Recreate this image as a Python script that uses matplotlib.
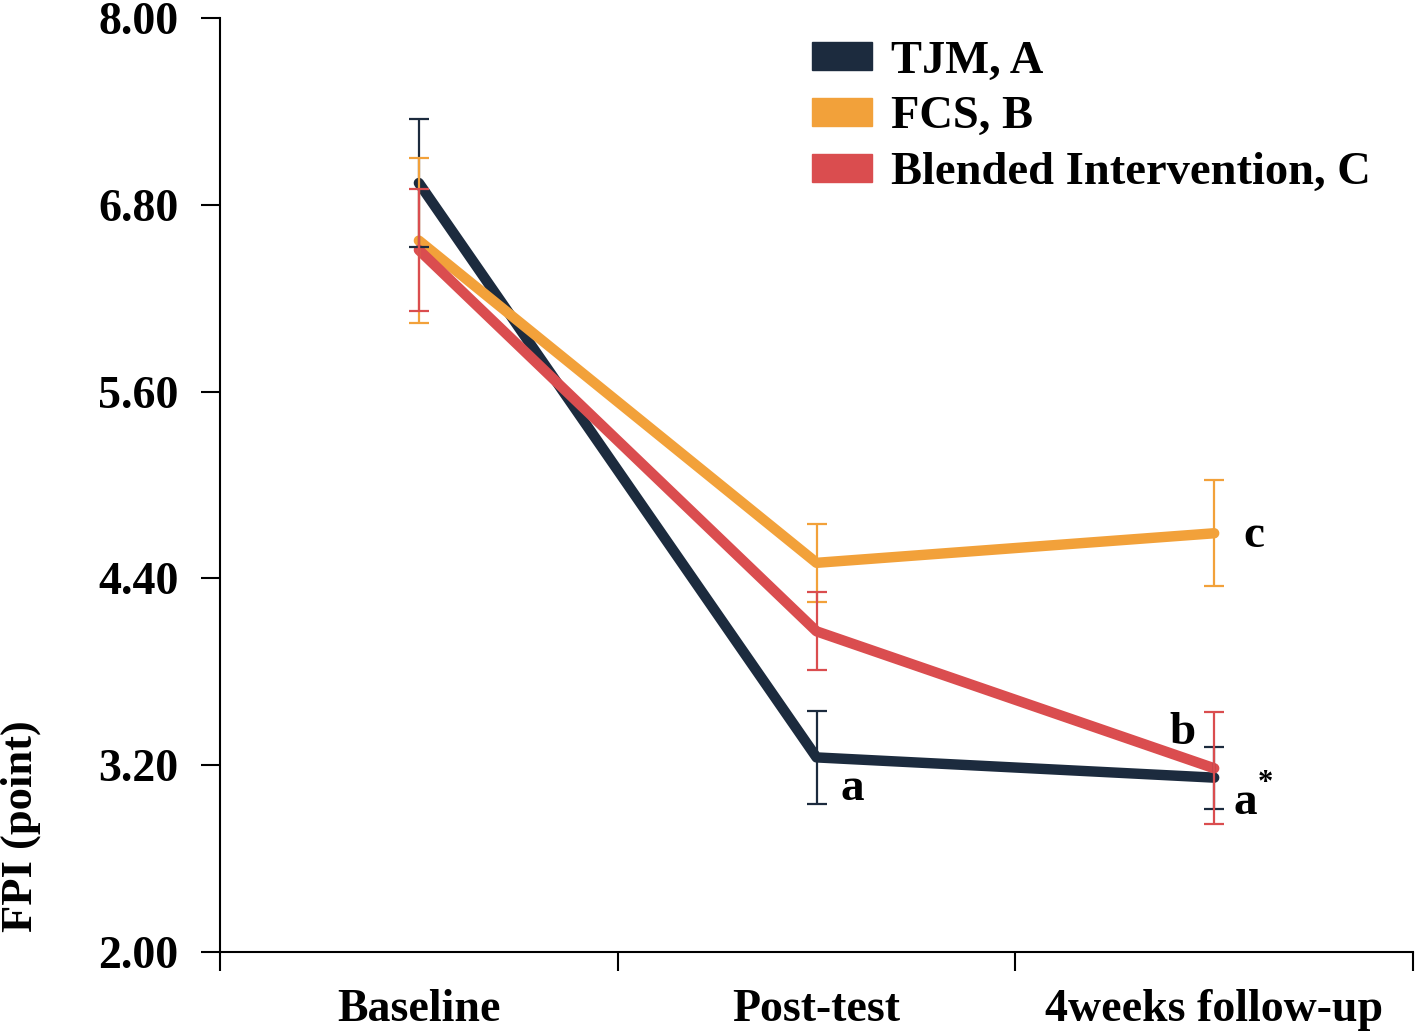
import matplotlib.pyplot as plt
import matplotlib.patches as mpatches

plt.rcParams['font.family'] = ['Liberation Serif', 'DejaVu Serif']
plt.rcParams['font.weight'] = 'bold'

phases = ['Baseline', 'Post-test', '4weeks follow-up']
tjm = [6.94, 3.25, 3.12]
tjm_err = [0.41, 0.30, 0.20]
fcs = [6.57, 4.50, 4.69]
fcs_err = [0.53, 0.25, 0.34]
blend = [6.51, 4.06, 3.18]
blend_err = [0.39, 0.25, 0.36]
names = ['TJM, A', 'FCS, B', 'Blended Intervention, C']
colors = ['#1c2b3e', '#f2a13a', '#da4d4f']
cap_colors = ['#1c2b3e', '#d9a060', '#a8464d']

fig = plt.figure(figsize=(14.16, 10.36), dpi=100)
ax = fig.add_axes([0.1554, 0.0811, 0.8425, 0.9015])

xs = [0.5, 1.5, 2.5]
series = [(tjm, tjm_err), (fcs, fcs_err), (blend, blend_err)]
for (vals, errs), c, cc in zip(series, colors, cap_colors):
    ax.plot(xs, vals, color=c, lw=7.5, solid_capstyle='round', solid_joinstyle='round', zorder=3)
    eb = ax.errorbar(xs, vals, yerr=errs, fmt='none', ecolor=c, elinewidth=1.6,
                     capsize=7, capthick=1.6, zorder=4)
    for cap in eb[1]:
        cap.set_color(cc)

ax.set_xlim(0, 3)
ax.set_ylim(2.0, 8.0)
yt = [2.0, 3.2, 4.4, 5.6, 6.8, 8.0]
ax.set_yticks(yt)
ax.set_yticklabels(['%.2f' % v for v in yt], fontsize=33)
ax.set_xticks([0, 1, 2, 3])
ax.set_xticklabels([])
ax.set_xticks(xs, minor=True)
ax.set_xticklabels(phases, minor=True, fontsize=33)
ax.tick_params(axis='x', which='minor', length=0, pad=27)
ax.tick_params(axis='both', which='major', length=14, width=1.5, direction='out')
ax.tick_params(axis='y', pad=16)
for s in ['top', 'right']:
    ax.spines[s].set_visible(False)
for s in ['left', 'bottom']:
    ax.spines[s].set_linewidth(1.5)
ax.set_ylabel('FPI (point)', fontsize=32, fontweight='bold')
ax.yaxis.set_label_coords(-0.150, 0.135)

# significance letters
ax.text(1.59, 3.05, 'a', fontsize=34, ha='center', va='center')
ax.text(2.6, 4.67, 'c', fontsize=34, ha='center', va='center')
ax.text(2.42, 3.41, 'b', fontsize=34, ha='center', va='center')
ax.text(2.578, 2.96, 'a', fontsize=34, ha='center', va='center')
ax.text(2.628, 3.08, '*', fontsize=22, ha='center', va='center')

handles = [mpatches.Patch(color=c, label=n) for c, n in zip(colors, names)]
ax.legend(handles=handles, loc='upper left', bbox_to_anchor=(0.496, 0.976), frameon=False,
          fontsize=33.5, handlelength=1.3, handleheight=0.55, handletextpad=0.4,
          labelspacing=0.3, borderpad=0, borderaxespad=0)

fig.savefig('out.png', dpi=100)
